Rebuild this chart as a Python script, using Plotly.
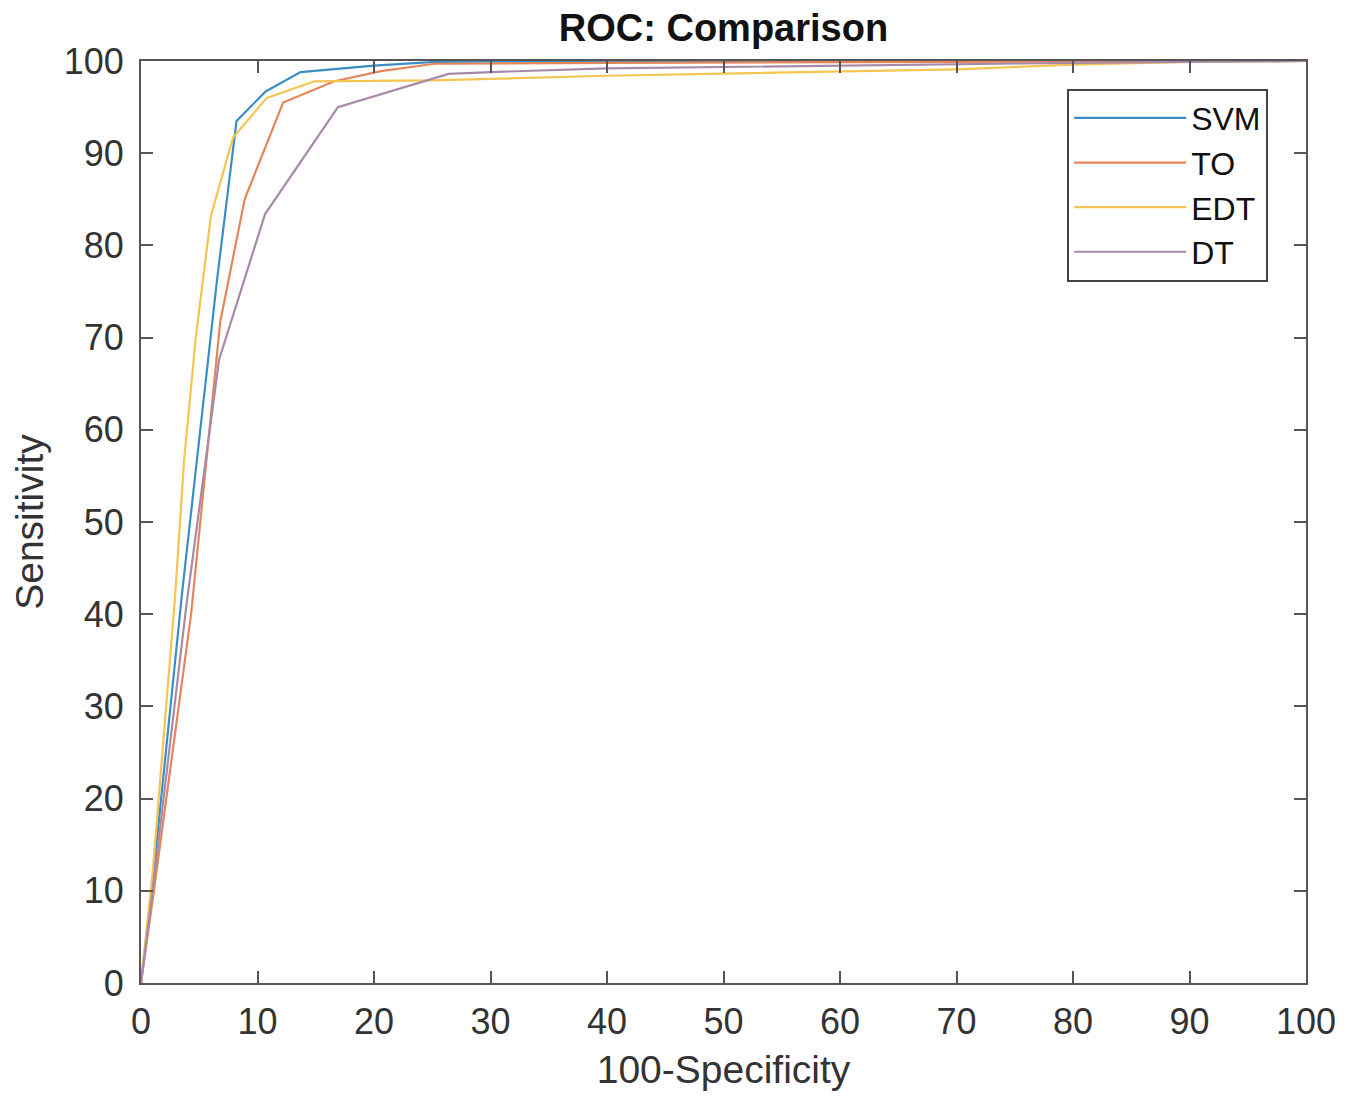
import plotly.graph_objects as go

# ROC points (x = 100-Specificity, y = Sensitivity)
svm_x = [0, 1.0, 3.5, 6.5, 8.2, 10.7, 13.7, 20.0, 25.2, 40, 60, 80, 100]
svm_y = [0, 11, 42, 76, 93.5, 96.7, 98.8, 99.5, 99.9, 100, 100, 100, 100]

to_x = [0, 1.0, 4.3, 5.9, 6.8, 8.9, 12.2, 16.6, 20.6, 25.2, 40, 70, 100]
to_y = [0, 9, 40, 60, 71.7, 85.0, 95.5, 97.8, 98.9, 99.7, 99.8, 99.9, 100]

edt_x = [0, 1.0, 2.9, 3.7, 4.7, 6.0, 7.9, 10.8, 14.9, 25, 40, 60, 70, 80, 90, 100]
edt_y = [0, 12, 41.5, 56.7, 70, 83.2, 91.7, 96.0, 97.8, 97.9, 98.4, 98.9, 99.1, 99.6, 99.9, 100]

dt_x = [0, 1.0, 3.9, 6.7, 10.65, 16.9, 26.4, 30.0, 40, 60, 80, 100]
dt_y = [0, 10, 41, 67.6, 83.4, 95.0, 98.6, 98.8, 99.2, 99.5, 99.8, 100]

names = ["SVM", "TO", "EDT", "DT"]
colors = ["#3a8ec4", "#e5865a", "#f4c550", "#a78aa9"]

fig = go.Figure()
for nm, xs, ys, c in zip(names, [svm_x, to_x, edt_x, dt_x],
                         [svm_y, to_y, edt_y, dt_y], colors):
    fig.add_trace(go.Scatter(x=xs, y=ys, mode="lines", name=nm,
                             line=dict(color=c, width=2.2)))

axis_style = dict(range=[0, 100], dtick=10, showline=True, mirror="ticks",
                  linecolor="#555555", linewidth=2, ticks="inside", ticklen=12,
                  tickwidth=2, tickcolor="#555555", showgrid=False, zeroline=False,
                  tickfont=dict(size=36, color="#333333"),
                  title_font=dict(size=39, color="#333333"))

# page has an 8px body margin, so margins are shifted to line the axes up
fig.update_layout(
    width=1357, height=1100,
    margin=dict(l=131, r=59, t=53, b=125),
    paper_bgcolor="white", plot_bgcolor="white",
    font=dict(family="Liberation Sans, Arial, sans-serif"),
    title=dict(text="<b>ROC: Comparison</b>", x=0.5, xref="paper", xanchor="center",
               y=0.982, yanchor="middle", font=dict(size=38, color="#111111")),
    xaxis=dict(axis_style, ticklabelstandoff=6,
               title=dict(text="100-Specificity", standoff=14)),
    yaxis=dict(axis_style, ticklabelstandoff=8,
               title=dict(text="Sensitivity", standoff=16)),
    legend=dict(x=0.795, y=0.97, xanchor="left", yanchor="top",
                bgcolor="white", bordercolor="#444444", borderwidth=2,
                font=dict(size=32, color="#111111"), itemwidth=112,
                tracegroupgap=0),
    showlegend=True,
)

fig.write_html("out.html")
